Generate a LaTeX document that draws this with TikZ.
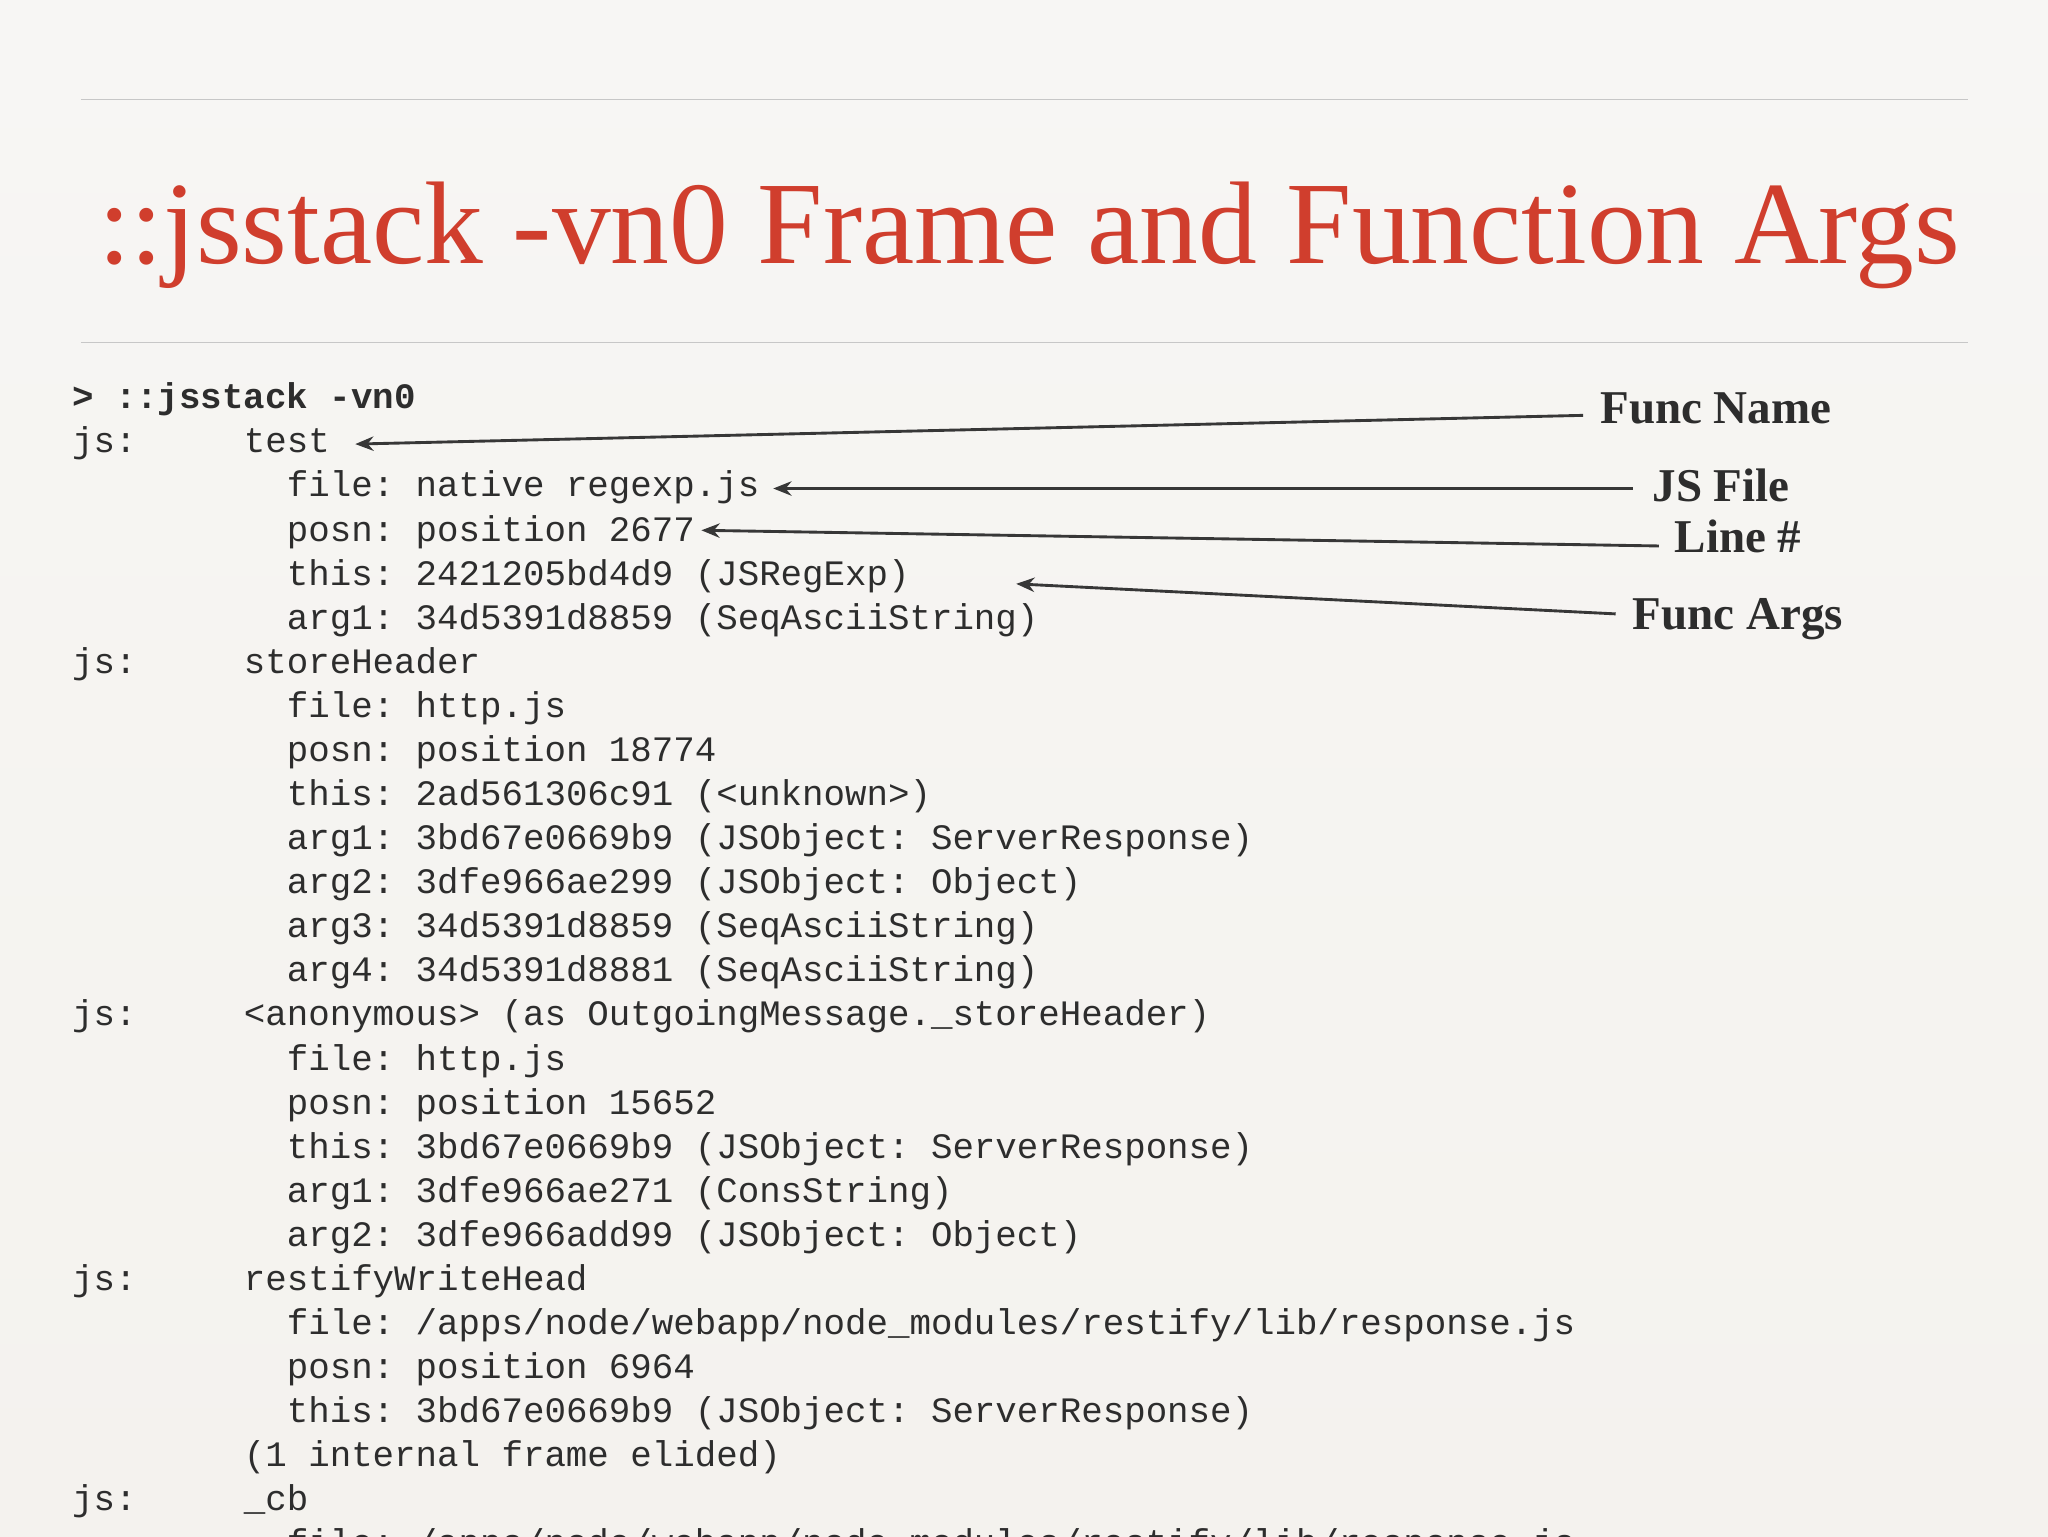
\documentclass[tikz,border=0pt]{standalone}
\usepackage{fontspec}
\setmainfont{Liberation Serif}
\setmonofont{Liberation Mono}
\usetikzlibrary{arrows.meta}
\definecolor{bg}{RGB}{244,242,238}
\definecolor{bgtop}{RGB}{247,246,244}
\definecolor{titlered}{RGB}{208,62,45}
\definecolor{codec}{RGB}{45,45,45}
\definecolor{arr}{RGB}{55,55,55}
\tikzset{
  code/.style={anchor=base west,inner sep=0pt,font=\fontsize{27.4}{30}\selectfont\ttfamily,text=codec},
  lab/.style={anchor=base west,inner sep=0pt,font=\fontsize{36}{40}\selectfont\bfseries,text=codec},
  pointer/.style={draw=arr,line width=2.2pt,-{Stealth[length=14pt,width=11pt]}},
  rule/.style={draw=black!22,line width=1pt}
}
\begin{document}
\begin{tikzpicture}[x=1pt,y=-1pt]
\useasboundingbox (0,0) rectangle (1568,1176);
\clip (0,0) rectangle (1568,1176);
\shade[top color=bgtop,bottom color=bg] (0,0) rectangle (1568,1176);
\draw[rule] (62,76) -- (1507,76);
\draw[rule] (62,262) -- (1507,262);
\node[anchor=base west,inner sep=0pt,font=\fontsize{90}{92}\selectfont,text=titlered] (title) at (75,202) {::jsstack -vn0 Frame and Function Args};
\node[code,font=\fontsize{27.4}{30}\selectfont\ttfamily\bfseries] (L0) at (55,313) {>~::jsstack~-vn0};
\foreach \t [count=\i] in {
{js:~~~~~test},
{~~~~~~~~~~file:~native~regexp.js},
{~~~~~~~~~~posn:~position~2677},
{~~~~~~~~~~this:~2421205bd4d9~(JSRegExp)},
{~~~~~~~~~~arg1:~34d5391d8859~(SeqAsciiString)},
{js:~~~~~storeHeader},
{~~~~~~~~~~file:~http.js},
{~~~~~~~~~~posn:~position~18774},
{~~~~~~~~~~this:~2ad561306c91~(<unknown>)},
{~~~~~~~~~~arg1:~3bd67e0669b9~(JSObject:~ServerResponse)},
{~~~~~~~~~~arg2:~3dfe966ae299~(JSObject:~Object)},
{~~~~~~~~~~arg3:~34d5391d8859~(SeqAsciiString)},
{~~~~~~~~~~arg4:~34d5391d8881~(SeqAsciiString)},
{js:~~~~~<anonymous>~(as~OutgoingMessage.\_storeHeader)},
{~~~~~~~~~~file:~http.js},
{~~~~~~~~~~posn:~position~15652},
{~~~~~~~~~~this:~3bd67e0669b9~(JSObject:~ServerResponse)},
{~~~~~~~~~~arg1:~3dfe966ae271~(ConsString)},
{~~~~~~~~~~arg2:~3dfe966add99~(JSObject:~Object)},
{js:~~~~~restifyWriteHead},
{~~~~~~~~~~file:~/apps/node/webapp/node\_modules/restify/lib/response.js},
{~~~~~~~~~~posn:~position~6964},
{~~~~~~~~~~this:~3bd67e0669b9~(JSObject:~ServerResponse)},
{~~~~~~~~(1~internal~frame~elided)},
{js:~~~~~\_cb},
{~~~~~~~~~~file:~/apps/node/webapp/node\_modules/restify/lib/response.js}
}{
  \node[code] (L\i) at (55,313+33.75*\i) {\t};
}
\node[lab] (fn) at (1225,324) {Func Name};
\node[lab] (jf) at (1265,384) {JS File};
\node[lab] (ln) at (1282,423) {Line \#};
\node[lab] (fa) at (1250,482) {Func Args};
\coordinate (sfn) at (1212,318);
\coordinate (sjf) at (1250,374);
\coordinate (sln) at (1270,418);
\coordinate (sfa) at (1237,470);
\coordinate (tfn) at (272,340);
\coordinate (tjf) at (592,374);
\coordinate (tln) at (537,406);
\coordinate (tfa) at (778,447);
\draw[pointer] (sfn) -- (tfn);
\draw[pointer] (sjf) -- (tjf);
\draw[pointer] (sln) -- (tln);
\draw[pointer] (sfa) -- (tfa);
\end{tikzpicture}
\end{document}
